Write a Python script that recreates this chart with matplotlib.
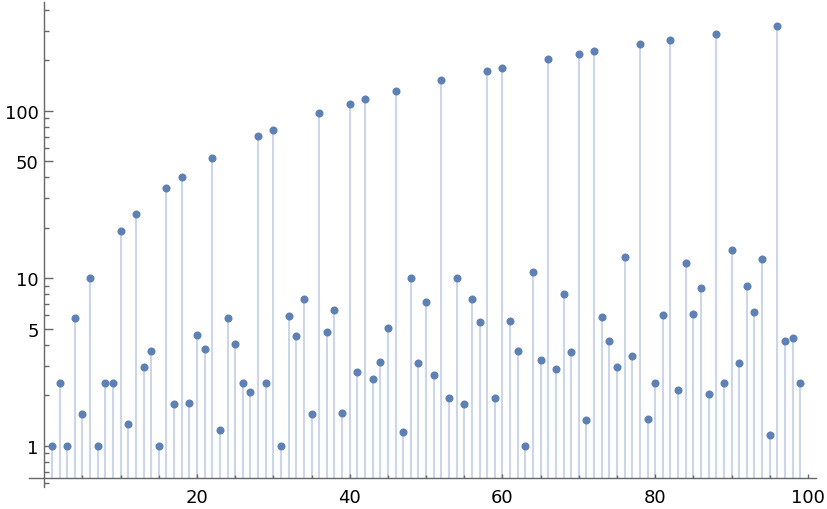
import numpy as np
import matplotlib.pyplot as plt
from matplotlib.ticker import FixedLocator, NullFormatter

# --- Data (n = 1..99, log-scale values) ---
n = list(range(1, 100))
values = [
    1, 2.37, 1, 5.79, 1.55, 10, 1, 2.37, 2.37, 19.2,            # 1-10
    1.35, 24.3, 2.96, 3.69, 1, 34.6, 1.77, 40.2, 1.81, 4.6,     # 11-20
    3.79, 52.4, 1.25, 5.79, 4.06, 2.37, 2.09, 70.9, 2.37, 77.0,  # 21-30
    1, 5.97, 4.54, 7.54, 1.55, 97.3, 4.79, 6.49, 1.57, 110,      # 31-40
    2.77, 118, 2.51, 3.17, 5.07, 131.6, 1.2, 10, 3.13, 7.24,     # 41-50
    2.65, 153, 1.93, 10, 1.78, 7.54, 5.5, 173, 1.93, 180.6,      # 51-60
    5.57, 3.69, 1, 10.9, 3.26, 204, 2.88, 8.08, 3.64, 219,       # 61-70
    1.43, 228, 5.89, 4.24, 2.96, 13.4, 3.45, 251, 1.45, 2.37,    # 71-80
    6.06, 265.5, 2.16, 12.4, 6.14, 8.78, 2.04, 288, 2.37, 14.8,  # 81-90
    3.13, 9.02, 6.31, 13.1, 1.16, 322, 4.24, 4.41, 2.37,         # 91-99
]

y_major = [1, 5, 10, 50, 100]
y_minor = [0.6, 0.7, 0.8, 0.9, 2, 3, 4, 6, 7, 8, 9,
           20, 30, 40, 60, 70, 80, 90, 200, 300, 400]
x_major = [20, 40, 60, 80, 100]
x_minor = [5, 10, 15, 25, 30, 35, 45, 50, 55, 65, 70, 75, 85, 90, 95]

point_color = (0.368417, 0.506779, 0.709798)
stem_color = (0.80, 0.84, 0.91)
axis_color = "#666666"
baseline = 0.64

fig = plt.figure(figsize=(8.28, 5.10), dpi=100)
ax = fig.add_axes([0.035, 0.0425, 0.950, 0.951])

ax.vlines(n, baseline, values, color=stem_color, lw=1.5, zorder=1)
ax.plot(n, values, "o", color=point_color, ms=5.8, mec="none", zorder=3)

ax.set_yscale("log")
ax.set_xlim(-2, 101)
ax.set_ylim(0.5647, 443.8)

for side in ["top", "right"]:
    ax.spines[side].set_visible(False)
ax.spines["left"].set_position(("data", 0))
ax.spines["bottom"].set_position(("data", baseline))
for side in ["left", "bottom"]:
    ax.spines[side].set_color(axis_color)
    ax.spines[side].set_linewidth(1.0)

ax.yaxis.set_major_locator(FixedLocator(y_major))
ax.yaxis.set_minor_locator(FixedLocator(y_minor))
ax.set_yticklabels([str(v) for v in y_major])
ax.yaxis.set_minor_formatter(NullFormatter())
ax.xaxis.set_major_locator(FixedLocator(x_major))
ax.xaxis.set_minor_locator(FixedLocator(x_minor))
ax.set_xticklabels([str(v) for v in x_major])

ax.tick_params(axis="y", which="major", direction="in", length=6.5, width=1.0,
               color=axis_color, labelsize=13, pad=4)
ax.tick_params(axis="y", which="minor", direction="in", length=3.3, width=1.0,
               color=axis_color)
ax.tick_params(axis="x", which="major", direction="in", length=3, width=1.0,
               color=axis_color, labelsize=13, pad=7)
ax.tick_params(axis="x", which="minor", direction="in", length=2, width=1.0,
               color=axis_color)

ax.patch.set_alpha(0)
fig.savefig("out.png", dpi=100)
